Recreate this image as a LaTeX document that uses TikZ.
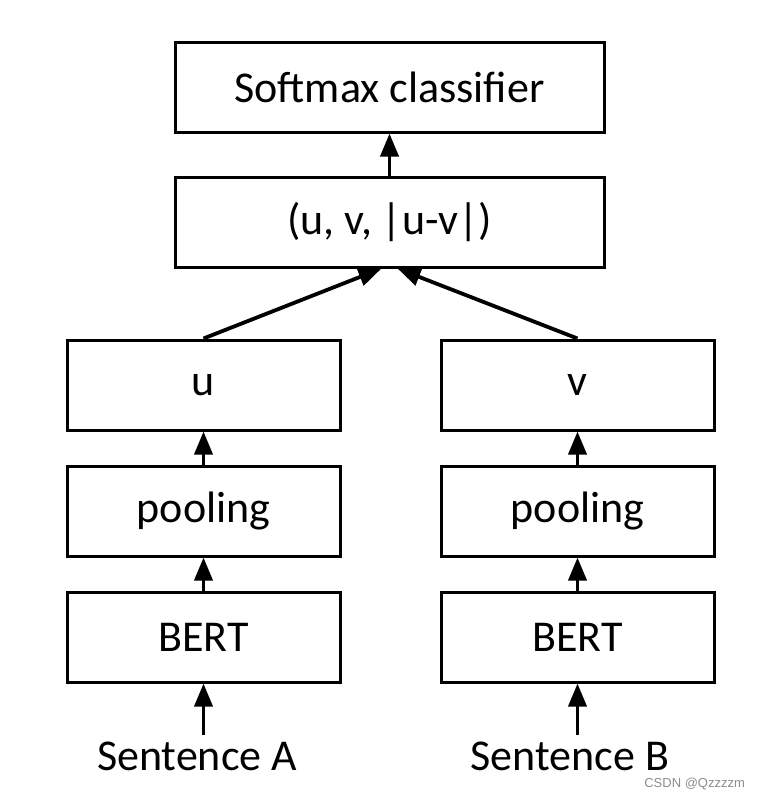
\documentclass[tikz,border=0pt]{standalone}
\usepackage{fontspec}
\setmainfont{Carlito}
\newfontfamily\wmfont{Liberation Sans}
\usetikzlibrary{arrows.meta}

\begin{document}
\begin{tikzpicture}[x=0.5pt, y=-0.5pt, >={Triangle[length=11.5pt, width=9pt]},
    box/.style={draw, line width=1.5pt, minimum width=136.5pt, minimum height=45pt, font=\fontsize{22}{26}\selectfont},
    wide/.style={box, minimum width=214.5pt},
    link/.style={->, line width=1.9pt}]
  \useasboundingbox (0, 0) rectangle (760, 798);
  \node[wide] (softmax) at (389.5, 87)  {Softmax classifier};
  \node[wide] (pair)    at (389.5, 222) {(u, v, |u-v|)};
  \node[box]  (uvec)  at (203.5, 385) {u};
  \node[box]  (vvec)  at (577.5, 385) {v};
  \node[box]  (poolA) at (203.5, 511) {pooling};
  \node[box]  (poolB) at (577.5, 511) {pooling};
  \node[box]  (bertA) at (203.5, 637) {BERT};
  \node[box]  (bertB) at (577.5, 637) {BERT};
  \node[anchor=base, font=\fontsize{22}{26}\selectfont] (sentA) at (197, 770) {Sentence A};
  \node[anchor=base, font=\fontsize{22}{26}\selectfont] (sentB) at (570, 770) {Sentence B};
  \coordinate (inA) at (203.5, 735);
  \coordinate (inB) at (577.5, 735);
  % arrows
  \draw[link] (inA) -- (bertA.south);
  \draw[link] (inB) -- (bertB.south);
  \draw[link] (bertA) -- (poolA);
  \draw[link] (bertB) -- (poolB);
  \draw[link] (poolA) -- (uvec);
  \draw[link] (poolB) -- (vvec);
  \draw[link] (uvec.north) -- ([xshift=-4pt]pair.south);
  \draw[link] (vvec.north) -- ([xshift=4pt]pair.south);
  \draw[link] (pair) -- (softmax);
  \node[anchor=base east, text=black!45, font=\wmfont\fontsize{6.5}{8}\selectfont] (mark) at (752, 787) {CSDN @Qzzzzm};
\end{tikzpicture}
\end{document}
